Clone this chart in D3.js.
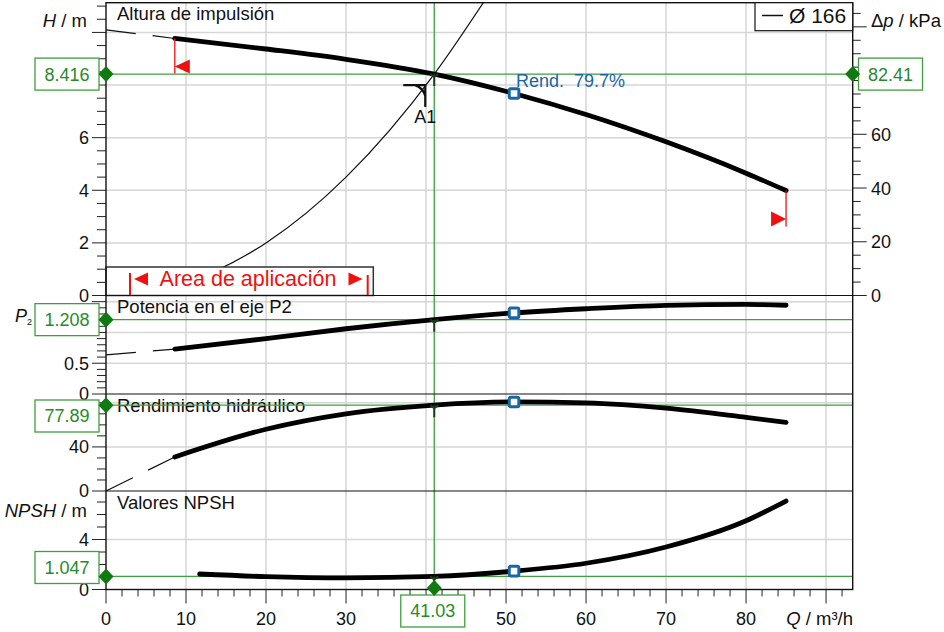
<!DOCTYPE html>
<html>
<head>
<meta charset="utf-8">
<script src="https://cdn.jsdelivr.net/npm/d3@7"></script>
<style>
  body { margin: 0; background: #fff; }
  svg { display: block; font-family: "Liberation Sans", Arial, sans-serif; }
</style>
</head>
<body>
<svg id="chart" width="944" height="632"></svg>
<script>
// --- values ---
const flowQ   = [0, 8.6, 20, 30, 41.03, 51, 60, 70, 80, 85];
const headH   = [10.10, 9.77, 9.37, 8.98, 8.416, 7.68, 6.88, 5.84, 4.65, 3.99];
const powerP2 = [0.637, 0.73, 0.90, 1.06, 1.208, 1.317, 1.385, 1.44, 1.455, 1.442];
const effHyd  = [0, 30.9, 56, 70, 77.89, 80.8, 79.9, 75.2, 66.8, 62.2];
const npshQ   = [11.7, 20, 30, 41.03, 51, 60, 70, 80, 85];
const npshReq = [1.24, 1.03, 0.93, 1.047, 1.47, 2.1, 3.4, 5.5, 7.08];
const systemQ = [0, 10, 20, 30, 41.03, 47.2];
const systemH = [0, 0.5, 2.0, 4.5, 8.416, 11.15];

const qMin = 8.6, qMax = 85;        // thick part of the curves
const dutyQ = 41.03;                // operating point
const bepQ = 51;                    // best efficiency point
const dutyH = 8.416, dutyDp = 82.41, dutyP2 = 1.208, dutyEff = 77.89, dutyNpsh = 1.047;
const bepText = "Rend.  79.7%";
const kPaPerM = 9.792;

// tick labels that stay visible (the others sit under the green value boxes)
const xTickLabels = [0, 10, 20, 30, 50, 60, 70, 80];
const hTickLabels = [0, 2, 4, 6];
const dpTickLabels = [0, 20, 40, 60];
const p2TickLabels = [0, 0.5];
const effTickLabels = [0, 40];
const npshTickLabels = [0, 4];

const GREEN = "#3f9f3f", GREEN_DARK = "#0f7a0f", GREEN_TXT = "#2a8a2a";
const BLUE = "#1766a6", GRID = "#d6d6d6", RED = "#f01010";

const svg = d3.select("#chart");
const left = 106, right = 852.7, plotTop = 2.7, plotBottom = 589.5;

const x = d3.scaleLinear().domain([0, 93.33]).range([left, right]);

const panels = [
  { key: "H",    top: plotTop, bottom: 295.5, max: 11.13, minor: 0.5, major: 2,  labels: hTickLabels,    grid: [2, 4, 6, 8, 10], title: "Altura de impulsión" },
  { key: "P2",   top: 295.5,  bottom: 394,   max: 1.6,   minor: 0.1, major: 0.5, labels: p2TickLabels,  grid: [0.5, 1, 1.5],    title: "Potencia en el eje P2" },
  { key: "eff",  top: 394,    bottom: 491,   max: 88,    minor: 10,  major: 40, labels: effTickLabels,  grid: [40, 80],         title: "Rendimiento hidráulico" },
  { key: "npsh", top: 491,    bottom: plotBottom, max: 7.88, minor: 1, major: 4, labels: npshTickLabels, grid: [4],           title: "Valores NPSH" }
];
panels.forEach(p => { p.y = d3.scaleLinear().domain([0, p.max]).range([p.bottom, p.top]); });
const byKey = Object.fromEntries(panels.map(p => [p.key, p]));
const yDp = d3.scaleLinear().domain([0, 11.13 * kPaPerM]).range([295.5, plotTop]);

const gGrid = svg.append("g");
const gAxis = svg.append("g");
const gGreen = svg.append("g");
const gCurves = svg.append("g");
const gTop = svg.append("g");

// --- grid ---
d3.range(10, 93, 10).forEach(v => {
  gGrid.append("line").attr("x1", x(v)).attr("x2", x(v)).attr("y1", plotTop).attr("y2", plotBottom)
    .attr("stroke", GRID).attr("stroke-width", 1.5);
});
panels.forEach(p => {
  p.grid.forEach(v => {
    gGrid.append("line").attr("x1", left).attr("x2", right).attr("y1", p.y(v)).attr("y2", p.y(v))
      .attr("stroke", GRID).attr("stroke-width", 1.5);
  });
});

// --- left axis ticks per panel ---
panels.forEach(p => {
  const n = Math.floor(p.max / p.minor + 1e-6);
  d3.range(0, n + 1).forEach(i => {
    const v = +(i * p.minor).toFixed(4);
    const isMajor = Math.abs(v / p.major - Math.round(v / p.major)) < 1e-6;
    gAxis.append("line").attr("x1", left - (isMajor ? 14 : 9)).attr("x2", left)
      .attr("y1", p.y(v)).attr("y2", p.y(v)).attr("stroke", "#222").attr("stroke-width", 1);
  });
  p.labels.forEach(v => {
    gAxis.append("text").attr("x", 89).attr("y", p.y(v)).attr("dy", "0.36em")
      .attr("text-anchor", "end").attr("font-size", 18).attr("fill", "#111").text(v);
  });
  gAxis.append("text").attr("x", 117).attr("y", p.top + 17.5).attr("font-size", 18.5)
    .attr("fill", "#111").text(p.title);
});

// --- right axis (Δp) ---
d3.range(0, 110, 5).forEach(v => {
  const isMajor = v % 20 === 0;
  gAxis.append("line").attr("x1", right).attr("x2", right + (isMajor ? 14 : 8))
    .attr("y1", yDp(v)).attr("y2", yDp(v)).attr("stroke", "#222");
});
dpTickLabels.forEach(v => {
  gAxis.append("text").attr("x", 871).attr("y", yDp(v)).attr("dy", "0.36em")
    .attr("font-size", 18).attr("fill", "#111").text(v);
});

// --- bottom axis ---
d3.range(0, 93, 2).forEach(v => {
  const isMajor = v % 10 === 0;
  gAxis.append("line").attr("x1", x(v)).attr("x2", x(v)).attr("y1", plotBottom)
    .attr("y2", plotBottom + (isMajor ? 14 : 7)).attr("stroke", "#222");
});
xTickLabels.forEach(v => {
  gAxis.append("text").attr("x", x(v)).attr("y", 625).attr("text-anchor", "middle")
    .attr("font-size", 18).attr("fill", "#111").text(v);
});

// axis titles
const hLab = gAxis.append("text").attr("x", 87).attr("y", 27).attr("text-anchor", "end").attr("font-size", 18.5).attr("fill", "#111");
hLab.append("tspan").attr("font-style", "italic").text("H");
hLab.append("tspan").text(" / m");
const dpLab = gAxis.append("text").attr("x", 871).attr("y", 27).attr("font-size", 18.5).attr("fill", "#111");
dpLab.append("tspan").text("Δ");
dpLab.append("tspan").attr("font-style", "italic").text("p");
dpLab.append("tspan").text(" / kPa");
const pLab = gAxis.append("text").attr("x", 15).attr("y", 322).attr("font-size", 18).attr("fill", "#111");
pLab.append("tspan").attr("font-style", "italic").text("P");
pLab.append("tspan").attr("font-size", 9).attr("dy", 3).text("2");
const nLab = gAxis.append("text").attr("x", 87).attr("y", 517).attr("text-anchor", "end").attr("font-size", 18.5).attr("fill", "#111");
nLab.append("tspan").attr("font-style", "italic").text("NPSH");
nLab.append("tspan").text(" / m");
const qLab = gAxis.append("text").attr("x", 853).attr("y", 625).attr("text-anchor", "end").attr("font-size", 18.5).attr("fill", "#111");
qLab.append("tspan").attr("font-style", "italic").text("Q");
qLab.append("tspan").text(" / m³/h");

// --- green duty lines ---
const xd = x(dutyQ);
gGreen.append("line").attr("x1", xd).attr("x2", xd).attr("y1", plotTop).attr("y2", plotBottom)
  .attr("stroke", GREEN).attr("stroke-width", 1.3);
const dutyVals = { H: dutyH, P2: dutyP2, eff: dutyEff, npsh: dutyNpsh };
panels.forEach(p => {
  const yy = p.y(dutyVals[p.key]);
  gGreen.append("line").attr("x1", left).attr("x2", right).attr("y1", yy).attr("y2", yy)
    .attr("stroke", GREEN).attr("stroke-width", 1.3);
});

// --- system curve (clipped to the head panel) ---
svg.append("clipPath").attr("id", "clipH").append("rect")
  .attr("x", left).attr("y", plotTop).attr("width", right - left).attr("height", 295.5 - plotTop);
const sysLine = d3.line().x(d => x(d[0])).y(d => byKey.H.y(d[1])).curve(d3.curveMonotoneX);
gCurves.append("path").attr("clip-path", "url(#clipH)")
  .attr("d", sysLine(d3.zip(systemQ, systemH)))
  .attr("fill", "none").attr("stroke", "#111").attr("stroke-width", 1.2);

// --- pump curves: thin dashed below qMin, thick inside the working range ---
function drawCurve(p, qs, vals) {
  const pts = d3.zip(qs, vals);
  const line = d3.line().x(d => x(d[0])).y(d => p.y(d[1])).curve(d3.curveMonotoneX);
  const thin = pts.filter(d => d[0] <= qMin);
  const thick = pts.filter(d => d[0] >= qMin);
  if (thin.length > 1) {
    gCurves.append("path").attr("d", line(thin)).attr("fill", "none")
      .attr("stroke", "#111").attr("stroke-width", 1.2).attr("stroke-dasharray", "30 17");
  }
  gCurves.append("path").attr("d", line(thick)).attr("fill", "none")
    .attr("stroke", "#000").attr("stroke-width", 4.8).attr("stroke-linecap", "round");
}
drawCurve(byKey.H, flowQ, headH);
drawCurve(byKey.P2, flowQ, powerP2);
drawCurve(byKey.eff, flowQ, effHyd);
drawCurve(byKey.npsh, npshQ, npshReq);

// duty point tails on each curve
panels.forEach(p => {
  const yy = p.y(dutyVals[p.key]);
  gTop.append("path").attr("d", `M${xd - 4},${yy} L${xd},${yy + 3} L${xd + 4},${yy} M${xd},${yy} V${yy + 12}`)
    .attr("fill", "none").attr("stroke", "#1c3a1c").attr("stroke-width", 2);
});

// A1 marker
const yOp = byKey.H.y(dutyH);
gTop.append("path")
  .attr("d", `M${xd - 31},${yOp + 11} H${xd - 9} V${yOp + 33} M${xd - 19},${yOp + 11} Q${xd - 11},${yOp + 14} ${xd - 9},${yOp + 22}`)
  .attr("fill", "none").attr("stroke", "#111").attr("stroke-width", 2.2);
gTop.append("text").attr("x", xd - 9).attr("y", yOp + 49).attr("text-anchor", "middle")
  .attr("font-size", 18).attr("fill", "#111").text("A1");

// red min / max flow flags
const hMinY = byKey.H.y(headH[flowQ.indexOf(qMin)]);
const hMaxY = byKey.H.y(headH[flowQ.indexOf(qMax)]);
const xMin = x(qMin), xMax = x(qMax);
gTop.append("line").attr("x1", xMin).attr("x2", xMin).attr("y1", hMinY).attr("y2", hMinY + 35).attr("stroke", RED).attr("stroke-width", 1.3);
gTop.append("path").attr("d", `M${xMin},${hMinY + 28} L${xMin + 15},${hMinY + 21} L${xMin + 15},${hMinY + 35} Z`).attr("fill", RED);
gTop.append("line").attr("x1", xMax).attr("x2", xMax).attr("y1", hMaxY).attr("y2", hMaxY + 36).attr("stroke", RED).attr("stroke-width", 1.3);
gTop.append("path").attr("d", `M${xMax},${hMaxY + 28.5} L${xMax - 15},${hMaxY + 21} L${xMax - 15},${hMaxY + 36} Z`).attr("fill", RED);

// best efficiency point squares
const bepVals = [
  [byKey.H, headH[flowQ.indexOf(bepQ)]],
  [byKey.P2, powerP2[flowQ.indexOf(bepQ)]],
  [byKey.eff, effHyd[flowQ.indexOf(bepQ)]],
  [byKey.npsh, npshReq[npshQ.indexOf(bepQ)]]
];
bepVals.forEach(([p, v]) => {
  gTop.append("rect").attr("x", x(bepQ) - 4.8).attr("y", p.y(v) - 4.8).attr("width", 9.6).attr("height", 9.6)
    .attr("rx", 1.5).attr("fill", "#fff").attr("stroke", BLUE).attr("stroke-width", 3);
});
gTop.append("text").attr("x", x(bepQ) + 2).attr("y", byKey.H.y(headH[flowQ.indexOf(bepQ)]) - 6.5)
  .attr("font-size", 18).attr("fill", BLUE).style("white-space", "pre").text(bepText);

// Area de aplicación box
const areaY = 267, areaX2 = 373.3;
gTop.append("rect").attr("x", left).attr("y", areaY).attr("width", areaX2 - left).attr("height", 295.5 - areaY)
  .attr("fill", "#fff").attr("stroke", "#333").attr("stroke-width", 1.5);
gTop.append("line").attr("x1", 130).attr("x2", 130).attr("y1", 273).attr("y2", 295.5).attr("stroke", RED).attr("stroke-width", 2);
gTop.append("line").attr("x1", 367.7).attr("x2", 367.7).attr("y1", 275).attr("y2", 295.5).attr("stroke", RED).attr("stroke-width", 2);
gTop.append("path").attr("d", "M134,279 L148,272.5 L148,285.5 Z").attr("fill", RED);
gTop.append("path").attr("d", "M362.5,279 L348.5,272.5 L348.5,285.5 Z").attr("fill", RED);
gTop.append("text").attr("x", 248).attr("y", 286).attr("text-anchor", "middle")
  .attr("font-size", 21.5).attr("fill", RED).text("Area de aplicación");

// panel separators + frame
[295.5, 394, 491].forEach(yy => {
  gTop.append("line").attr("x1", left).attr("x2", right).attr("y1", yy).attr("y2", yy)
    .attr("stroke", "#111").attr("stroke-width", 1.2);
});
gTop.append("rect").attr("x", left).attr("y", plotTop).attr("width", right - left).attr("height", plotBottom - plotTop)
  .attr("fill", "none").attr("stroke", "#111").attr("stroke-width", 1.4);

// legend
gTop.append("rect").attr("x", 755).attr("y", plotTop).attr("width", right - 755).attr("height", 28)
  .attr("fill", "#fff").attr("stroke", "#111").attr("stroke-width", 1.2);
gTop.append("line").attr("x1", 762).attr("x2", 783).attr("y1", 15.5).attr("y2", 15.5).attr("stroke", "#111").attr("stroke-width", 1.5);
gTop.append("text").attr("x", 789).attr("y", 23).attr("font-size", 21).attr("fill", "#111").text("Ø 166");

// green value boxes and diamonds
function diamond(cx, cy) {
  gTop.append("path").attr("d", `M${cx},${cy - 8} L${cx + 7.5},${cy} L${cx},${cy + 8} L${cx - 7.5},${cy} Z`)
    .attr("fill", GREEN_DARK);
}
function valueBox(cx, cy, txt) {
  gTop.append("rect").attr("x", cx - 32).attr("y", cy - 16).attr("width", 64).attr("height", 32)
    .attr("fill", "#fff").attr("stroke", GREEN).attr("stroke-width", 1.3);
  gTop.append("text").attr("x", cx).attr("y", cy).attr("dy", "0.36em").attr("text-anchor", "middle")
    .attr("font-size", 18).attr("fill", GREEN_TXT).text(txt);
}
const dutyText = { H: "8.416", P2: "1.208", eff: "77.89", npsh: "1.047" };
panels.forEach(p => {
  const yy = p.y(dutyVals[p.key]);
  const cy = Math.max(p.top + 22, Math.min(p.bottom - 22, yy));
  valueBox(67, cy, dutyText[p.key]);
  diamond(left, yy);
});
valueBox(890.5, yDp(dutyDp), String(dutyDp));
diamond(right, yDp(dutyDp));
valueBox(xd - 1.5, 611, String(dutyQ));
diamond(xd, plotBottom - 1.5);
</script>
</body>
</html>
